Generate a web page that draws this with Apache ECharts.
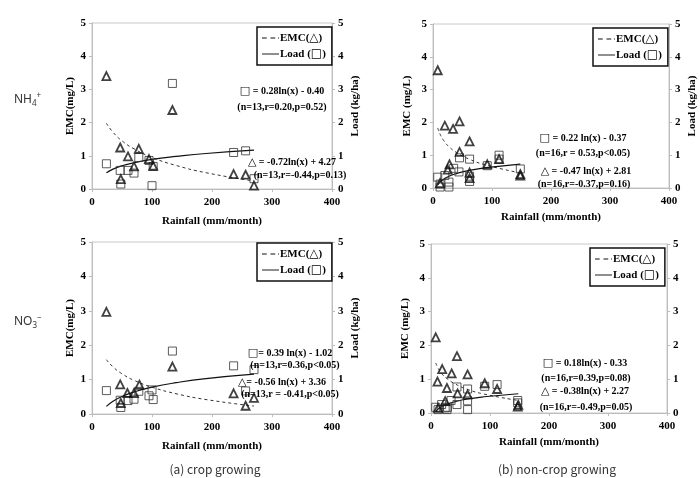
<!DOCTYPE html>
<html><head><meta charset="utf-8">
<script src="https://cdn.jsdelivr.net/npm/echarts@6/dist/echarts.min.js"></script>
<style>html,body{margin:0;padding:0;background:#fff}#c{width:700px;height:478px}</style>
</head><body><div id="c"></div>
<script>
// ---- shared axis settings ----
const xMin = 0, xMax = 400, xStep = 100;
const yMin = 0, yMax = 5, yStep = 1;
const xName = 'Rainfall (mm/month)';
const emcName = 'EMC(△)';
const loadName = 'Load (□)';

// ---- (a) crop growing, NH4+ ----
const a1TriX = [24, 47, 48, 60, 70, 78, 95, 102, 134, 236, 256, 270];
const a1TriY = [3.40, 1.25, 0.30, 0.98, 0.68, 1.21, 0.90, 0.70, 2.38, 0.45, 0.43, 0.10];
const a1SqX = [24, 47, 48, 60, 70, 78, 95, 102, 100, 134, 236, 256, 270];
const a1SqY = [0.76, 0.56, 0.15, 0.56, 0.48, 0.95, 0.86, 0.68, 0.10, 3.18, 1.10, 1.15, 0.31];
const a1FitX = [24, 35, 50, 70, 100, 140, 190, 270];
const a1EmcFit = [1.98, 1.71, 1.45, 1.21, 0.95, 0.71, 0.49, 0.24];
const a1LoadFit = [0.49, 0.60, 0.70, 0.79, 0.89, 0.98, 1.07, 1.17];

// ---- (b) non-crop growing, NH4+ ----
const b1TriX = [8, 20, 34, 45, 62, 45, 28, 25, 62, 92, 112, 148, 148, 12, 62];
const b1TriY = [3.59, 1.90, 1.80, 2.03, 1.42, 1.10, 0.72, 0.56, 0.47, 0.72, 0.88, 0.38, 0.42, 0.15, 0.30];
const b1SqX = [8, 12, 20, 27, 27, 35, 44, 45, 62, 62, 62, 92, 112, 148, 12, 112];
const b1SqY = [0.33, 0.03, 0.38, 0.18, 0.03, 0.60, 0.49, 0.92, 0.88, 0.36, 0.20, 0.68, 1.00, 0.58, 0.12, 0.88];
const b1FitX = [8, 12, 18, 27, 40, 60, 90, 148];
const b1EmcFit = [1.83, 1.64, 1.45, 1.26, 1.08, 0.89, 0.70, 0.46];
const b1LoadFit = [0.09, 0.18, 0.27, 0.36, 0.44, 0.53, 0.62, 0.73];

// ---- (a) crop growing, NO3- ----
const a2TriX = [24, 47, 48, 59, 70, 79, 134, 236, 256, 270];
const a2TriY = [2.97, 0.86, 0.32, 0.61, 0.61, 0.85, 1.38, 0.60, 0.24, 0.47];
const a2SqX = [24, 47, 48, 60, 70, 78, 95, 100, 102, 134, 236, 256, 270];
const a2SqY = [0.68, 0.40, 0.19, 0.39, 0.43, 0.66, 0.53, 0.70, 0.42, 1.83, 1.40, 0.67, 1.29];
const a2FitX = [24, 35, 50, 70, 100, 140, 190, 270];
const a2EmcFit = [1.58, 1.37, 1.17, 0.98, 0.78, 0.59, 0.42, 0.23];
const a2LoadFit = [0.22, 0.37, 0.51, 0.64, 0.78, 0.91, 1.03, 1.16];

// ---- (b) non-crop growing, NO3- ----
const b2TriX = [8, 11, 19, 35, 44, 62, 27, 45, 62, 91, 112, 147, 24, 12, 148];
const b2TriY = [2.24, 0.93, 1.30, 1.17, 1.68, 1.14, 0.74, 0.58, 0.55, 0.88, 0.71, 0.19, 0.35, 0.15, 0.24];
const b2SqX = [8, 12, 18, 24, 27, 28, 34, 44, 44, 62, 62, 62, 91, 112, 147, 147];
const b2SqY = [0.17, 0.10, 0.25, 0.15, 0.10, 0.17, 0.37, 0.77, 0.25, 0.71, 0.36, 0.10, 0.79, 0.84, 0.37, 0.30];
const b2FitX = [8, 12, 18, 27, 40, 60, 90, 148];
const b2EmcFit = [1.48, 1.33, 1.17, 1.02, 0.87, 0.71, 0.56, 0.37];
const b2LoadFit = [0.04, 0.12, 0.19, 0.26, 0.33, 0.41, 0.48, 0.57];

// ---- text ----
const annotations = [
  ['□ = 0.28ln(x) - 0.40', '(n=13,r=0.20,p=0.52)', '△ = -0.72ln(x) + 4.27', '(n=13,r=-0.44,p=0.13)'],
  ['□ = 0.22 ln(x) - 0.37', '(n=16,r = 0.53,p<0.05)', '△ = -0.47 ln(x) + 2.81', '(n=16,r=-0.37,p=0.16)'],
  ['□= 0.39 ln(x) - 1.02', '(n=13,r=0.36,p<0.05)', '△= -0.56 ln(x) + 3.36', '(n=13,r = -0.41,p<0.05)'],
  ['□ = 0.18ln(x) - 0.33', '(n=16,r=0.39,p=0.08)', '△ = -0.38ln(x) + 2.27', '(n=16,r=-0.49,p=0.05)']
];
const captions = ['(a) crop growing', '(b) non-crop growing'];

const zip = (xs, ys) => xs.map((x, i) => [x, ys[i]]);
const panels = [
  {tri: zip(a1TriX, a1TriY), sq: zip(a1SqX, a1SqY), emc: zip(a1FitX, a1EmcFit), load: zip(a1FitX, a1LoadFit),
   grid: {left: 92, top: 23, width: 240, height: 166}, leftName: 'EMC(mg/L)', rightName: 'Load (kg/ha)',
   lg: {left: 257, top: 27}, ann: [[282, 91], [282, 107], [292, 162], [300, 175]]},
  {tri: zip(b1TriX, b1TriY), sq: zip(b1SqX, b1SqY), emc: zip(b1FitX, b1EmcFit), load: zip(b1FitX, b1LoadFit),
   grid: {left: 433, top: 24, width: 236, height: 164}, leftName: 'EMC (mg/L)', rightName: 'Load (kg/ha)',
   lg: {left: 593, top: 28}, ann: [[583, 138], [583, 153], [586, 171], [584, 184]]},
  {tri: zip(a2TriX, a2TriY), sq: zip(a2SqX, a2SqY), emc: zip(a2FitX, a2EmcFit), load: zip(a2FitX, a2LoadFit),
   grid: {left: 92, top: 242, width: 240, height: 172}, leftName: 'EMC(mg/L)', rightName: 'Load (kg/ha)',
   lg: {left: 257, top: 243}, ann: [[290, 353], [295, 365], [282, 382], [290, 394]]},
  {tri: zip(b2TriX, b2TriY), sq: zip(b2SqX, b2SqY), emc: zip(b2FitX, b2EmcFit), load: zip(b2FitX, b2LoadFit),
   grid: {left: 431, top: 244, width: 236, height: 169}, leftName: 'EMC (mg/L)', rightName: '',
   lg: {left: 590, top: 248}, ann: [[585, 363], [586, 378], [585, 391], [586, 407]]}
];

const serif = '"Liberation Serif", "Times New Roman", serif';
const labelStyle = {fontFamily: serif, fontWeight: 'bold', fontSize: 11, color: '#000'};
const axisLine = {show: true, lineStyle: {color: '#bdbdbd', width: 1}};
const axisTick = {show: true, inside: false, length: 3, lineStyle: {color: '#bdbdbd'}};
const dashIcon = 'path://M0,0h5v1h-5z M9,0h5v1h-5z M17,0h1v1h-1z';
const solidIcon = 'path://M0,0h18v1h-18z';
// enlarge the shape glyphs inside texts
const glyphRich = (s) => s.replace(/[□△]/g, (g) => '{g|' + g + '}');
const richText = {
  t: {fontFamily: serif, fontWeight: 'bold', fontSize: 10, fill: '#000', color: '#000'},
  g: {fontFamily: '"DejaVu Sans", sans-serif', fontSize: 11, fill: '#000', color: '#000'}
};

const grids = [], xAxes = [], yAxes = [], series = [], legends = [], graphics = [];
panels.forEach((p, i) => {
  grids.push(Object.assign({show: true, borderColor: '#c8c8c8', borderWidth: 1, backgroundColor: 'transparent'}, p.grid));
  xAxes.push({gridIndex: i, type: 'value', min: xMin, max: xMax, interval: xStep,
    name: xName, nameLocation: 'middle', nameGap: i % 2 === 0 ? 27 : 24,
    nameTextStyle: Object.assign({}, labelStyle),
    axisLine, axisTick, splitLine: {show: false},
    axisLabel: Object.assign({margin: 8}, labelStyle)});
  yAxes.push({gridIndex: i, type: 'value', position: 'left', min: yMin, max: yMax, interval: yStep,
    name: p.leftName, nameLocation: 'middle', nameRotate: 90, nameGap: i % 2 === 0 ? 16 : 20,
    nameTextStyle: Object.assign({}, labelStyle),
    axisLine, axisTick, splitLine: {show: false},
    axisLabel: Object.assign({margin: 6}, labelStyle)});
  yAxes.push({gridIndex: i, type: 'value', position: 'right', min: yMin, max: yMax, interval: yStep,
    name: p.rightName, nameLocation: 'middle', nameRotate: 90, nameGap: 18,
    nameTextStyle: Object.assign({}, labelStyle),
    axisLine, axisTick, splitLine: {show: false},
    axisLabel: Object.assign({margin: 6}, labelStyle)});
  series.push({type: 'scatter', name: 'emcPts' + i, xAxisIndex: i, yAxisIndex: 2 * i, data: p.tri,
    symbol: 'triangle', symbolSize: 8, z: 4,
    itemStyle: {color: 'rgba(255,255,255,0)', borderColor: '#111', borderWidth: 1.8}});
  series.push({type: 'scatter', name: 'loadPts' + i, xAxisIndex: i, yAxisIndex: 2 * i + 1, data: p.sq,
    symbol: 'rect', symbolSize: 8, z: 3,
    itemStyle: {color: 'rgba(255,255,255,0)', borderColor: '#333', borderWidth: 1}});
  series.push({type: 'line', name: emcName, xAxisIndex: i, yAxisIndex: 2 * i, data: p.emc,
    smooth: true, symbol: 'none', z: 2, color: '#111', itemStyle: {color: '#111'},
    lineStyle: {color: '#333', width: 1, type: [3, 3]}});
  series.push({type: 'line', name: loadName, xAxisIndex: i, yAxisIndex: 2 * i + 1, data: p.load,
    smooth: true, symbol: 'none', z: 2, color: '#111', itemStyle: {color: '#111'},
    lineStyle: {color: '#111', width: 1.2, type: 'solid'}});
  legends.push({left: p.lg.left, top: p.lg.top, orient: 'vertical',
    data: [{name: emcName, icon: dashIcon}, {name: loadName, icon: solidIcon}],
    selectedMode: false, borderColor: '#111', borderWidth: 1.5, padding: [4, 6, 4, 5], itemGap: 2,
    itemWidth: 17, itemHeight: 1.4, itemStyle: {color: '#111', borderWidth: 0},
    formatter: (name) => '{t|' + name.replace(/[□△]/g, (g) => '}{g|' + g + '}{t|') + '}',
    textStyle: {fontFamily: serif, fontWeight: 'bold', fontSize: 11, color: '#000', padding: [0, 0, 0, -4], lineHeight: 14,
      rich: {t: {fontFamily: serif, fontWeight: 'bold', fontSize: 11, color: '#000'},
             g: {fontFamily: '"DejaVu Sans", sans-serif', fontSize: 12, color: '#000'}}}});
  p.ann.forEach((pos, k) => {
    const txt = annotations[i][k];
    graphics.push({type: 'text', x: pos[0], y: pos[1], z: 10,
      style: {text: '{t|' + txt.replace(/[□△]/g, (g) => '}{g|' + g + '}{t|') + '}', align: 'center', verticalAlign: 'middle',
        rich: richText}});
  });
});

graphics.push({type: 'text', x: 14, y: 100, style: {text: '{a|NH}{s|4}{p|+}', verticalAlign: 'middle',
  rich: {a: {fontSize: 12, fontFamily: 'Noto Sans', fill: '#333', lineHeight: 16, verticalAlign: 'middle'},
    s: {fontSize: 8, fontFamily: 'Noto Sans', fill: '#333', lineHeight: 16, verticalAlign: 'bottom'},
    p: {fontSize: 8, fontFamily: 'Noto Sans', fill: '#333', lineHeight: 16, verticalAlign: 'top'}}}});
graphics.push({type: 'text', x: 14, y: 322, style: {text: '{a|NO}{s|3}{p|−}', verticalAlign: 'middle',
  rich: {a: {fontSize: 12, fontFamily: 'Noto Sans', fill: '#333', lineHeight: 16, verticalAlign: 'middle'},
    s: {fontSize: 8, fontFamily: 'Noto Sans', fill: '#333', lineHeight: 16, verticalAlign: 'bottom'},
    p: {fontSize: 8, fontFamily: 'Noto Sans', fill: '#333', lineHeight: 16, verticalAlign: 'top'}}}});
graphics.push({type: 'text', x: 215, y: 469, style: {text: captions[0], align: 'center', verticalAlign: 'middle',
  font: '12px "Noto Sans CJK KR", "Noto Sans", sans-serif', fill: '#333'}});
graphics.push({type: 'text', x: 557, y: 469, style: {text: captions[1], align: 'center', verticalAlign: 'middle',
  font: '12px "Noto Sans CJK KR", "Noto Sans", sans-serif', fill: '#333'}});

const chart = echarts.init(document.getElementById('c'), null, {renderer: 'canvas'});
chart.setOption({
  animation: false,
  backgroundColor: '#fff',
  grid: grids, xAxis: xAxes, yAxis: yAxes, series, legend: legends, graphic: graphics
});
</script></body></html>
